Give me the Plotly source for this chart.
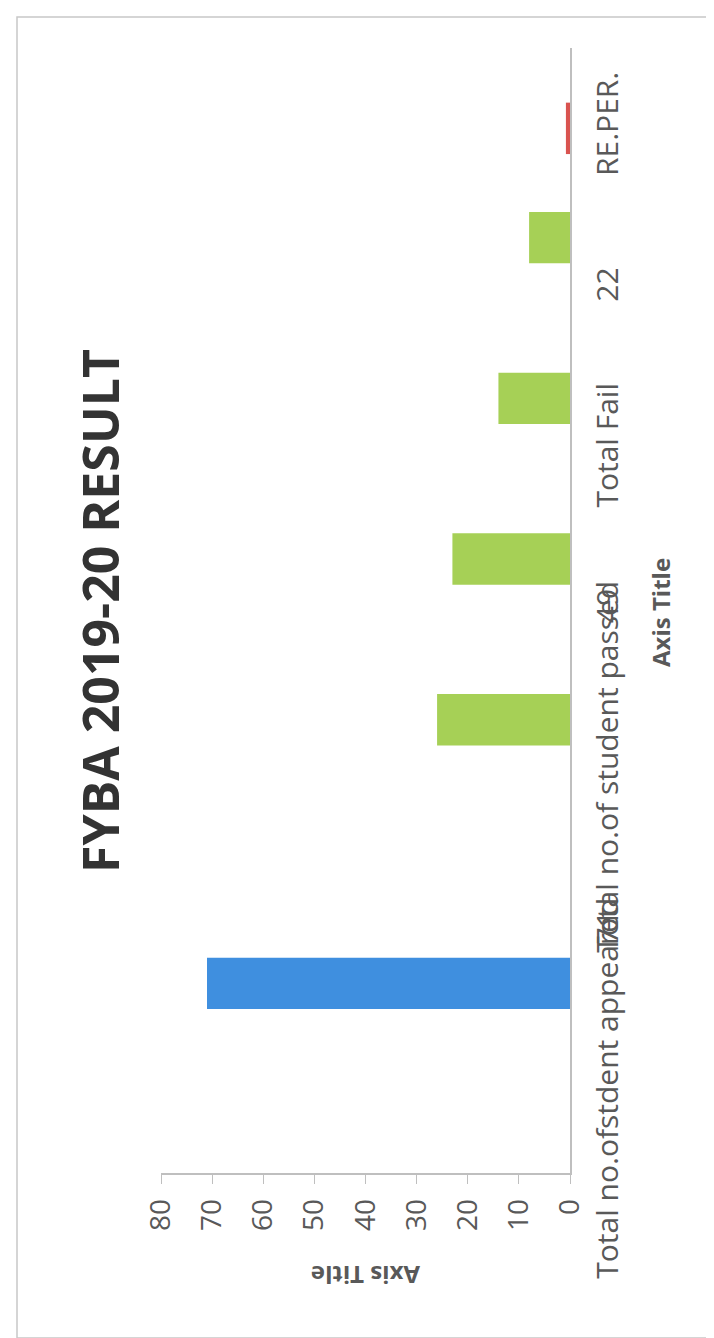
import plotly.graph_objects as go

# ---- data ----
categories = ["Total no.ofstdent appeared", "71", "Total no.of student passed",
              "49", "Total Fail", "22", "RE.PER."]
series_blue = [None, 71, None, None, None, None, None]
series_red = [None, None, None, None, None, None, 0.8]
series_green = [None, None, 26, 23, 14, 8, None]
value_ticks = [0, 10, 20, 30, 40, 50, 60, 70, 80]

FONT = "Open Sans"
GRAY = "#595959"

fig = go.Figure()
fig.add_trace(go.Bar(y=categories, x=series_blue, orientation="h",
                     marker=dict(color="#3F8FDF", line=dict(width=0)), name="s1"))
fig.add_trace(go.Bar(y=categories, x=series_red, orientation="h",
                     marker=dict(color="#D9534F", line=dict(width=0)), name="s2"))
fig.add_trace(go.Bar(y=categories, x=series_green, orientation="h",
                     marker=dict(color="#A6D056", line=dict(width=0)), name="s3"))

W, H = 714, 1338
L, R, T, B = 153, 152, 40, 173
pw, ph = W - L - R, H - T - B

def px_x(p):
    return (p - L) / pw

def px_y(p):
    return (H - B - p) / ph

fig.update_layout(
    width=W, height=H,
    margin=dict(l=L, r=R, t=T, b=B),
    barmode="group", bargap=0.04, bargroupgap=0,
    showlegend=False,
    paper_bgcolor="white", plot_bgcolor="white",
    font=dict(family=FONT, color=GRAY),
    xaxis=dict(range=[80, 0], tickvals=value_ticks, tickangle=-90,
               showline=True, linecolor="#BFBFBF", linewidth=1.5,
               ticks="outside", ticklen=9, tickcolor="#BFBFBF",
               ticklabelstandoff=4,
               showgrid=False, zeroline=False,
               tickfont=dict(size=28, color=GRAY, family=FONT)),
    yaxis=dict(type="category", side="right", tickangle=-90,
               showline=True, linecolor="#BFBFBF", linewidth=1.5,
               ticks="", showgrid=False, zeroline=False,
               ticklabelstandoff=10,
               tickfont=dict(size=30, color=GRAY, family=FONT)),
    annotations=[
        dict(text="<b>FYBA 2019-20 RESULT</b>", textangle=-90,
             xref="paper", yref="paper", x=px_x(92), y=px_y(603),
             xanchor="center", yanchor="middle", showarrow=False,
             font=dict(size=50, color="#333333", family=FONT)),
        dict(text="<b>Axis Title</b>", textangle=180,
             xref="paper", yref="paper", x=0.5, y=px_y(1268),
             xanchor="center", yanchor="middle", showarrow=False,
             font=dict(size=24, color=GRAY, family=FONT)),
        dict(text="<b>Axis Title</b>", textangle=-90,
             xref="paper", yref="paper", x=px_x(652), y=px_y(605),
             xanchor="center", yanchor="middle", showarrow=False,
             font=dict(size=24, color=GRAY, family=FONT)),
    ],
    shapes=[
        dict(type="rect", xref="paper", yref="paper",
             x0=px_x(9), x1=px_x(704), y0=px_y(1330), y1=px_y(9),
             line=dict(color="#C8C8C8", width=1.5), fillcolor="rgba(0,0,0,0)",
             layer="below"),
    ],
)

fig.write_html("out.html")
